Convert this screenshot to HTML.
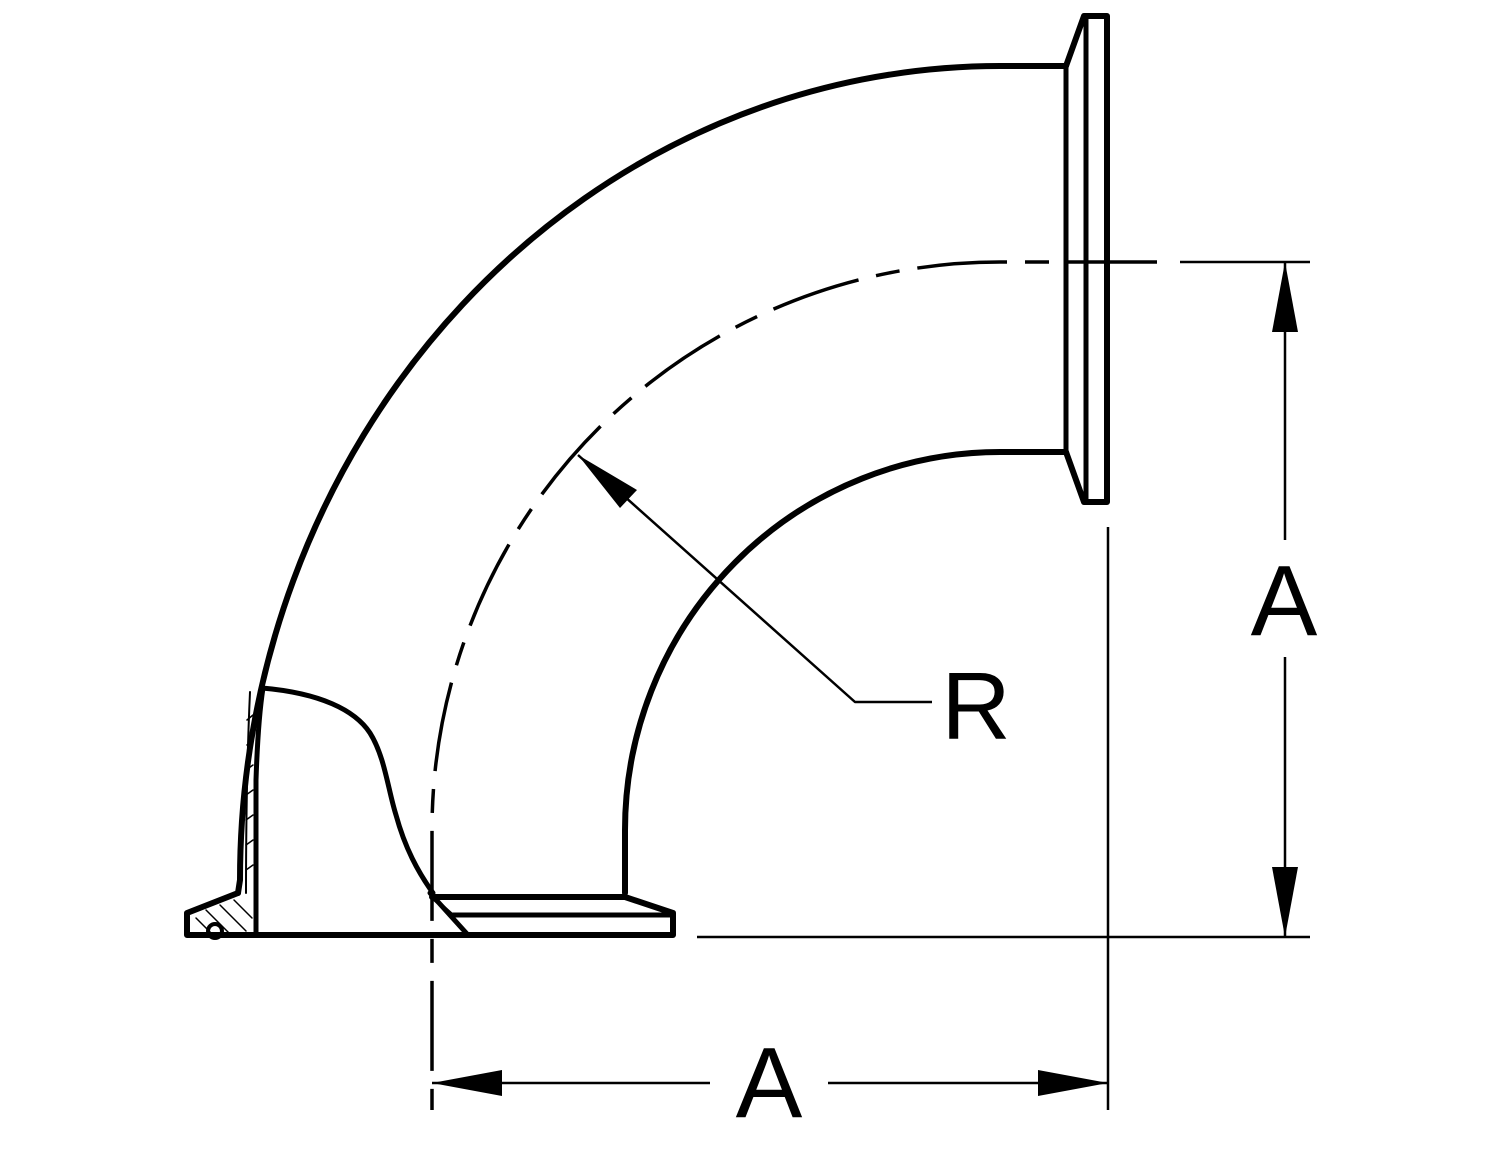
<!DOCTYPE html>
<html><head><meta charset="utf-8"><style>
html,body{margin:0;padding:0;background:#fff;}
svg{display:block;}
text{font-family:"Liberation Sans",sans-serif;fill:#000;}
</style></head><body>
<svg width="1500" height="1159" viewBox="0 0 1500 1159" xmlns="http://www.w3.org/2000/svg">
<g fill="none" stroke="#000" stroke-linejoin="round" stroke-linecap="round">
<!-- outer arc -->
<path d="M238,893 L240,880 A760,814 0 0 1 1000,66 L1066,66" stroke-width="6"/>
<!-- inner arc -->
<path d="M625,893 L625,830 A375,378 0 0 1 1000,452 L1066,452" stroke-width="6"/>
<!-- top flange -->
<path d="M1066,66 L1066,452" stroke-width="5"/>
<path d="M1066,66 L1084,16 L1107,16 L1107,502 L1084,502 L1066,452" stroke-width="6"/>
<path d="M1086,18 L1086,500" stroke-width="5"/>
<!-- bottom flange -->
<path d="M238,893 L187,913 L187,935 L673,935 L673,913 L625,897 L432,897" stroke-width="6"/>
<path d="M453,915 L670,915" stroke-width="5"/>
<path d="M432,897 L452,915" stroke-width="4"/>
<path d="M430,893 L468,935" stroke-width="5"/>
<!-- cutaway -->
<path d="M256,935 L256,780 Q258,720 263,688" stroke-width="5"/>
<path d="M262,688 C320,693 355,710 370,733 C385,757 388,790 396,815 C405,848 418,872 433,893" stroke-width="5"/>
<path d="M250,692 Q246,780 246,893" stroke-width="2"/>
<g stroke-width="1.5">
<path d="M247,720 l6,-5 M247,745 l6,-5 M246,770 l7,-5 M246,795 l7,-5 M246,820 l7,-5 M246,845 l7,-5 M246,870 l7,-5"/>
<path d="M196,918 l16,16 M206,910 l24,24 M220,905 l26,26 M234,900 l18,18"/>
</g>
<circle cx="215" cy="931" r="7" stroke-width="4"/>
<!-- centerline dashed -->
<path d="M1157,262 L1000,262 A568,568 0 0 0 432,830 L432,1110" stroke-width="3.5" stroke-dasharray="90 18 24 18" stroke-linecap="butt"/>
<!-- dimension lines -->
<g stroke-width="2.5" stroke-linecap="butt">
<path d="M1180,262 L1310,262"/>
<path d="M697,937 L1310,937"/>
<path d="M1285,262 L1285,540"/>
<path d="M1285,657 L1285,937"/>
<path d="M1108,527 L1108,1110"/>
<path d="M432,1083 L710,1083"/>
<path d="M828,1083 L1108,1083"/>
<path d="M578,455 L855,702 L932,702"/>
</g>
</g>
<g fill="#000" stroke="none">
<polygon points="1285,262 1272,332 1298,332"/>
<polygon points="1285,937 1272,867 1298,867"/>
<polygon points="432,1083 502,1070 502,1096"/>
<polygon points="1108,1083 1038,1070 1038,1096"/>
<polygon points="578,455 637,490 620,508"/>
</g>
<text x="1284" y="635" font-size="100" text-anchor="middle">A</text>
<text x="769" y="1117" font-size="100" text-anchor="middle">A</text>
<text x="976" y="739" font-size="96" text-anchor="middle">R</text>
</svg>
</body></html>
